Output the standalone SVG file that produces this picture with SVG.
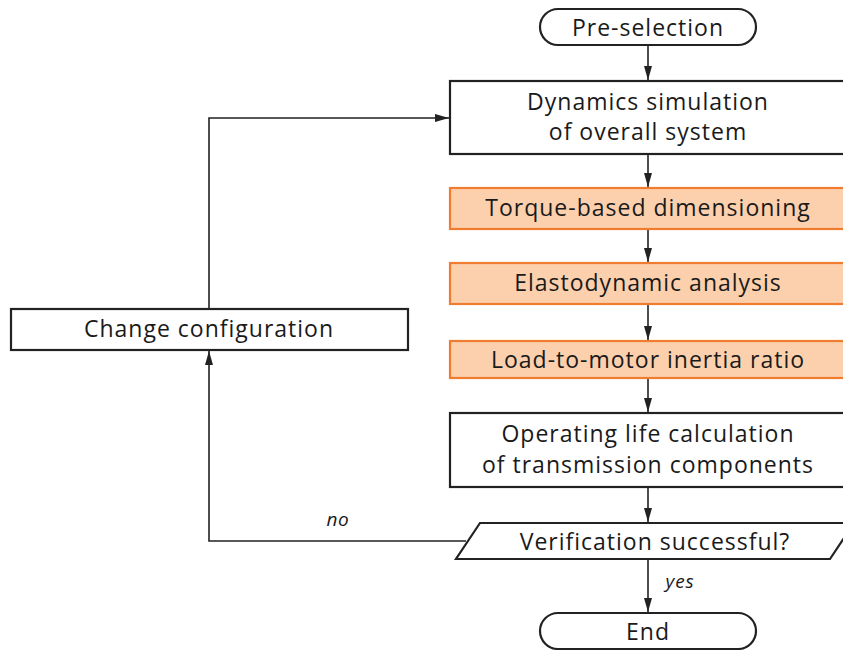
<svg xmlns="http://www.w3.org/2000/svg" width="843" height="650" viewBox="0 0 843 650">
<style>
text{font-family:"Open Sans","Liberation Sans",sans-serif;font-size:23px;letter-spacing:1px;fill:#1a1a1a;text-anchor:middle}
.lbl{font-size:19px;font-style:italic;letter-spacing:0.8px}
.box{fill:#fff;stroke:#222;stroke-width:2.2}
.hl{fill:#fcd0ad;stroke:#f07c30;stroke-width:2.2}
.con{fill:none;stroke:#222;stroke-width:1.6}
</style>
<defs>
<marker id="ah" markerWidth="14" markerHeight="8" refX="14" refY="4" orient="auto" markerUnits="userSpaceOnUse">
<path d="M0,0 L14,4 L0,8 Z" fill="#222"/>
</marker>
</defs>
<rect width="843" height="650" fill="#fff"/>
<g id="connectors">
<path class="con" d="M648,46 V80" marker-end="url(#ah)"/>
<path class="con" d="M648,155 V187" marker-end="url(#ah)"/>
<path class="con" d="M648,230 V262" marker-end="url(#ah)"/>
<path class="con" d="M648,305 V340" marker-end="url(#ah)"/>
<path class="con" d="M648,379 V412" marker-end="url(#ah)"/>
<path class="con" d="M648,488 V522" marker-end="url(#ah)"/>
<path class="con" d="M648,560 V612" marker-end="url(#ah)"/>
<path class="con" d="M466,541 H209 V351" marker-end="url(#ah)"/>
<path class="con" d="M209,308 V118 H449" marker-end="url(#ah)"/>
<text class="lbl" x="338" y="526">no</text>
<text class="lbl" x="680" y="588">yes</text>
</g>
<g id="pre-selection">
<rect class="box" x="540" y="9" width="216" height="36" rx="18"/>
<text x="648" y="36">Pre-selection</text>
</g>
<g id="dynamics">
<rect class="box" x="450" y="81" width="400" height="73"/>
<text x="648" y="110">Dynamics simulation</text>
<text x="648" y="140">of overall system</text>
</g>
<g id="torque">
<rect class="hl" x="450" y="188" width="400" height="41"/>
<text x="648" y="216">Torque-based dimensioning</text>
</g>
<g id="elasto">
<rect class="hl" x="450" y="263" width="400" height="41"/>
<text x="648" y="291">Elastodynamic analysis</text>
</g>
<g id="inertia">
<rect class="hl" x="450" y="341" width="400" height="37"/>
<text x="648" y="368">Load-to-motor inertia ratio</text>
</g>
<g id="operating">
<rect class="box" x="450" y="413" width="400" height="74"/>
<text x="648" y="442">Operating life calculation</text>
<text x="648" y="473">of transmission components</text>
</g>
<g id="verification">
<path class="box" d="M480,523 H854 L830,559 H456 Z"/>
<text x="655" y="550">Verification successful?</text>
</g>
<g id="end">
<rect class="box" x="540" y="613" width="216" height="36" rx="18"/>
<text x="648" y="640">End</text>
</g>
<g id="change">
<rect class="box" x="11" y="309" width="397" height="41"/>
<text x="209" y="337">Change configuration</text>
</g>
</svg>
